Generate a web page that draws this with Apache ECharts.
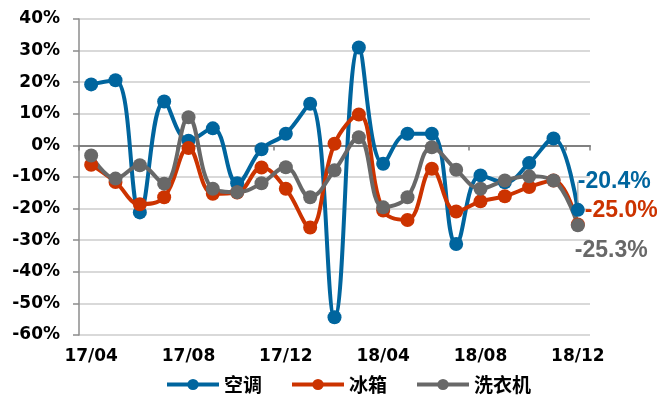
<!DOCTYPE html>
<html>
<head>
<meta charset="utf-8">
<script src="https://cdn.jsdelivr.net/npm/echarts@6/dist/echarts.min.js"></script>
<style>
  html, body { margin: 0; padding: 0; background: #fff; }
  #chart { width: 657px; height: 401px; }
</style>
</head>
<body>
<div id="chart"></div>
<script>
// Monthly year-on-year change (%) of appliance output
const months = ['17/04','17/05','17/06','17/07','17/08','17/09','17/10','17/11','17/12',
                '18/01','18/02','18/03','18/04','18/05','18/06','18/07','18/08','18/09',
                '18/10','18/11','18/12'];
const aircon = [19.3, 20.6, -21.2, 13.9, 1.5, 5.4, -12.0, -1.2, 3.7, 13.2, -54.4, 31.0,
                -5.8, 3.7, 3.7, -31.2, -9.5, -11.7, -5.6, 2.2, -20.4];
const fridge = [-6.1, -11.6, -18.6, -16.4, -0.8, -15.3, -14.9, -7.0, -13.7, -26.0, 0.5, 9.8,
                -20.6, -23.6, -7.4, -20.9, -17.7, -16.1, -13.2, -11.1, -25.0];
const washer = [-3.2, -10.5, -6.3, -12.1, 8.9, -13.7, -14.8, -12.0, -6.9, -16.4, -7.9, 2.6,
                -19.6, -16.4, -0.6, -7.7, -13.7, -11.1, -9.8, -11.1, -25.3];
const yTicks = { min: -60, max: 40, step: 10 };

const COLORS = { aircon: '#00659e', fridge: '#cc3300', washer: '#686868' };
const AXISFONT = '"DejaVu Sans", sans-serif';
const LATIN = '"Liberation Sans", Arial, sans-serif';
const CJK = '"Noto Sans CJK SC", sans-serif';

// Only the last month carries a value label
function withEndLabel(values, color) {
  return values.map((v, i) => i === values.length - 1
    ? { value: v, label: { show: true, position: 'right', color: color,
        fontFamily: LATIN, fontWeight: 'bold', fontSize: 23,
        formatter: p => p.value.toFixed(1) + '%' } }
    : v);
}

function lineSeries(name, values, color, layout, leader) {
  return {
    name: name,
    type: 'line',
    xAxisIndex: 0,
    smooth: 0.4,
    symbol: 'circle',
    symbolSize: 14,
    data: withEndLabel(values, color),
    itemStyle: { color: color },
    lineStyle: { color: color, width: 4 },
    label: { show: false },
    labelLayout: layout,
    labelLine: leader ? { show: true, lineStyle: { color: '#a6a6a6', width: 1.2 } } : { show: false },
    emphasis: { disabled: true },
    animation: false
  };
}

const chart = echarts.init(document.getElementById('chart'), null, { renderer: 'canvas' });
chart.setOption({
  animation: false,
  grid: { left: 79, right: 67, top: 19, bottom: 66 },
  legend: {
    left: 160, bottom: 2,
    itemWidth: 52, itemHeight: 14, itemGap: 28,
    lineStyle: { width: 4 },
    textStyle: { fontFamily: CJK, fontWeight: 'bold', fontSize: 19, color: '#000' },
    data: ['空调', '冰箱', '洗衣机']
  },
  xAxis: [
    {
      // zero line with boundary ticks
      type: 'category', data: months, boundaryGap: true,
      axisLine: { onZero: true, lineStyle: { color: '#808080', width: 2 } },
      axisTick: { show: true, interval: 3, length: 5, lineStyle: { color: '#808080', width: 1.5 } },
      axisLabel: { show: false },
      splitLine: { show: false }
    },
    {
      // bottom labels
      type: 'category', data: months, boundaryGap: true, position: 'bottom',
      axisLine: { show: false, onZero: false },
      axisTick: { show: false },
      axisLabel: { interval: 3, margin: 13, color: '#000', fontFamily: AXISFONT,
                   fontWeight: 'bold', fontSize: 17 },
      splitLine: { show: false }
    }
  ],
  yAxis: {
    type: 'value', min: yTicks.min, max: yTicks.max, interval: yTicks.step,
    axisLine: { show: true, lineStyle: { color: '#8c8c8c', width: 1.5 } },
    axisTick: { show: true, length: 6, lineStyle: { color: '#8c8c8c', width: 1.5 } },
    axisLabel: { margin: 19, color: '#000', fontFamily: AXISFONT, fontWeight: 'bold',
                 fontSize: 17, formatter: v => v + '%' },
    splitLine: { show: true, lineStyle: { color: '#d9d9d9', width: 2 } }
  },
  series: [
    lineSeries('空调', aircon, COLORS.aircon, { dx: -12, dy: -28 }, true),
    lineSeries('冰箱', fridge, COLORS.fridge, { dx: -5, dy: -14 }, false),
    lineSeries('洗衣机', washer, COLORS.washer, { dx: -15, dy: 25 }, false)
  ]
});
</script>
</body>
</html>
